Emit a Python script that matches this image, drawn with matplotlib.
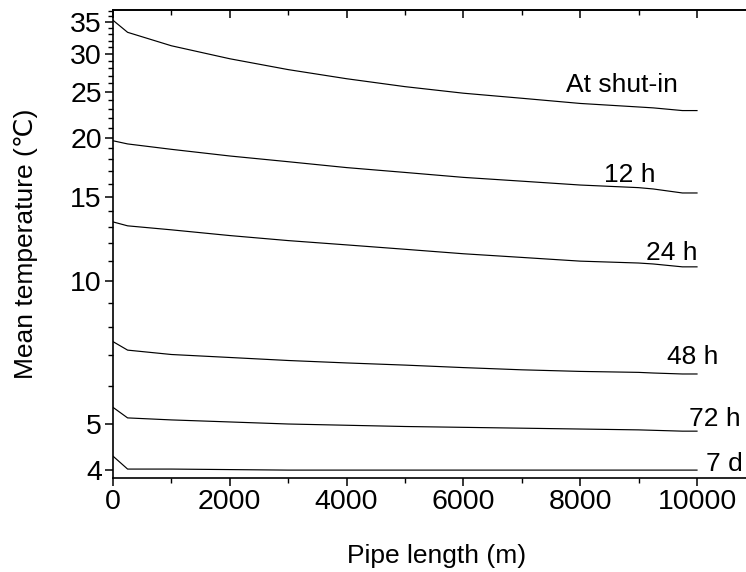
import matplotlib
matplotlib.use("Agg")
import matplotlib.pyplot as plt
from matplotlib.ticker import FixedLocator, FuncFormatter

plt.rcParams['font.family'] = ['Liberation Sans', 'DejaVu Sans']

# Data
pipe_length = [0, 250, 1000, 2000, 3000, 4000, 5000, 6000, 7000, 8000, 9000, 9250, 9750, 10000]
t_shutin = [35.3, 33.3, 31.2, 29.3, 27.8, 26.6, 25.6, 24.8, 24.2, 23.6, 23.2, 23.1, 22.8, 22.8]
t_12h = [19.7, 19.4, 18.9, 18.3, 17.8, 17.3, 16.9, 16.5, 16.2, 15.9, 15.7, 15.6, 15.3, 15.3]
t_24h = [13.3, 13.05, 12.8, 12.45, 12.15, 11.9, 11.65, 11.4, 11.2, 11.0, 10.9, 10.85, 10.7, 10.7]
t_48h = [7.45, 7.15, 7.0, 6.9, 6.8, 6.72, 6.65, 6.57, 6.5, 6.45, 6.42, 6.4, 6.37, 6.37]
t_72h = [5.42, 5.15, 5.1, 5.05, 5.0, 4.97, 4.94, 4.92, 4.9, 4.88, 4.86, 4.85, 4.83, 4.83]
t_7d = [4.28, 4.02, 4.02, 4.01, 4.0, 4.0, 4.0, 4.0, 4.0, 4.0, 4.0, 4.0, 4.0, 4.0]
series_labels = ["At shut-in", "12 h", "24 h", "48 h", "72 h", "7 d"]
y_major_ticks = [4, 5, 10, 15, 20, 25, 30, 35]
x_major_ticks = [0, 2000, 4000, 6000, 8000, 10000]
x_minor_ticks = [1000, 3000, 5000, 7000, 9000]

FS = 19
TFS = 20.5
W, H = 746, 572
fig = plt.figure(figsize=(W / 100, H / 100), dpi=100)
ax = fig.add_axes([113 / W, 1 - 478 / H, (W - 113) / W, (478 - 10) / H])

series = [t_shutin, t_12h, t_24h, t_48h, t_72h, t_7d]
for s in series:
    ax.plot(pipe_length, s, color='black', lw=0.85)

ax.set_yscale('log')
ax.set_ylim(3.85, 37.1)
ax.set_xlim(0, 10839)

ax.yaxis.set_major_locator(FixedLocator(y_major_ticks))
ax.yaxis.set_major_formatter(FuncFormatter(lambda v, p: f"{v:g}"))
minor_y = [v for v in range(4, 38) if v not in y_major_ticks]
ax.yaxis.set_minor_locator(FixedLocator(minor_y))
ax.yaxis.set_minor_formatter(FuncFormatter(lambda v, p: ""))

ax.xaxis.set_major_locator(FixedLocator(x_major_ticks))
ax.xaxis.set_minor_locator(FixedLocator(x_minor_ticks))

for sp in ['left', 'bottom', 'top']:
    ax.spines[sp].set_linewidth(1.2)
ax.spines['right'].set_visible(False)

ax.tick_params(axis='both', which='major', labelsize=TFS, length=6, width=1.1, direction='out')
ax.tick_params(axis='both', which='minor', length=3.5, width=1.0, direction='out')
ax.tick_params(axis='x', which='both', top=False)
ax.tick_params(axis='x', which='major', pad=2)
ax.tick_params(axis='y', which='major', pad=2)

sec = ax.secondary_xaxis('top')
sec.xaxis.set_major_locator(FixedLocator(x_major_ticks))
sec.xaxis.set_minor_locator(FixedLocator(x_minor_ticks))
sec.tick_params(axis='x', which='major', direction='in', length=6, width=1.1, labeltop=False)
sec.tick_params(axis='x', which='minor', direction='in', length=3.5, width=1.0)
sec.spines['top'].set_linewidth(1.2)

ax.set_xlabel("Pipe length (m)", fontsize=FS)
ax.xaxis.set_label_coords((437 - 113) / (W - 113), -0.14)
ax.set_ylabel("Mean temperature (℃)", fontsize=FS)
ax.yaxis.set_label_coords(-(113 - 38) / (W - 113), 0.5)

label_pos = [(9675, 24.9), (9281, 16.1), (10000, 11.05), (10360, 6.69), (10753, 4.95), (10788, 3.98)]
for lab, (xx, yy) in zip(series_labels, label_pos):
    ax.text(xx, yy, lab, ha='right', va='baseline', fontsize=FS)

fig.savefig("out.png", dpi=100)
